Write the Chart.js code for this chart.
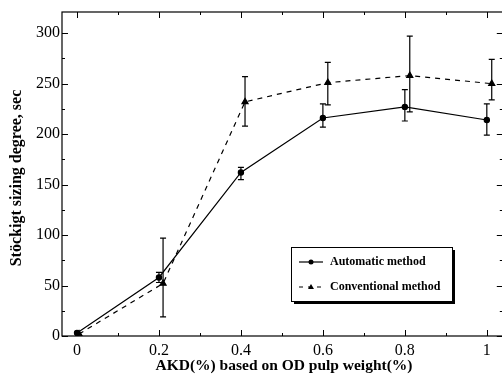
<!DOCTYPE html>
<html lang="en">
<head>
    <meta charset="UTF-8">
    <title>Stöckigt sizing degree</title>
    <script src="https://cdn.jsdelivr.net/npm/chart.js"></script>
    <style>
        html, body { margin: 0; padding: 0; background: #fff; overflow: hidden; }
        .chart-container { position: relative; width: 508px; height: 382px; }
    </style>
</head>
<body>
    <div class="chart-container">
        <canvas id="sizingChart"></canvas>
    </div>

    <script>
        // Data
        const autoX = [0, 0.2, 0.4, 0.6, 0.8, 1.0];
        const autoY = [3, 58, 162, 216, 227, 214];
        const autoLo = [3, 53, 155, 207, 213, 199];
        const autoHi = [3, 63, 167, 230, 244, 230];

        const convX = [0.005, 0.21, 0.41, 0.612, 0.812, 1.012];
        const convY = [2, 52, 232, 251, 258, 250];
        const convLo = [2, 19, 208, 229, 222, 234];
        const convHi = [2, 97, 257, 271, 297, 274];

        const xTicks = [0, 0.2, 0.4, 0.6, 0.8, 1];
        const yTicks = [0, 50, 100, 150, 200, 250, 300];

        const seriesNames = ['Automatic method', 'Conventional method'];

        const serif = "'Liberation Serif', 'Times New Roman', serif";

        function toPoints(xs, ys) {
            return xs.map((x, i) => ({ x: x, y: ys[i] }));
        }

        // Frame with inward ticks on all four sides
        const framePlugin = {
            id: 'frame',
            beforeDatasetsDraw(chart) {
                const { ctx, chartArea: a, scales: { x, y } } = chart;
                ctx.save();
                ctx.strokeStyle = '#000';
                ctx.lineWidth = 1.2;
                ctx.strokeRect(a.left, a.top, a.right - a.left, a.bottom - a.top);
                ctx.lineWidth = 1;
                ctx.beginPath();
                for (let v = 0; v <= 1.0001; v += 0.1) {
                    const px = Math.round(x.getPixelForValue(v)) + 0.5;
                    const major = Math.round(v * 10) % 2 === 0;
                    const len = major ? 6 : 3;
                    ctx.moveTo(px, a.bottom); ctx.lineTo(px, a.bottom - len);
                    ctx.moveTo(px, a.top); ctx.lineTo(px, a.top + len);
                }
                for (let v = 0; v <= 320; v += 25) {
                    const py = Math.round(y.getPixelForValue(v)) + 0.5;
                    const len = v % 50 === 0 ? 6 : 3;
                    ctx.moveTo(a.left, py); ctx.lineTo(a.left + len, py);
                    ctx.moveTo(a.right, py); ctx.lineTo(a.right - len, py);
                }
                ctx.stroke();
                ctx.restore();
            }
        };

        // Error bars drawn from the lo/hi arrays
        const errorBarPlugin = {
            id: 'errorBars',
            afterDatasetsDraw(chart) {
                const { ctx, scales: { x, y } } = chart;
                const sets = [[autoX, autoLo, autoHi], [convX, convLo, convHi]];
                ctx.save();
                ctx.strokeStyle = '#000';
                ctx.lineWidth = 1.2;
                ctx.setLineDash([]);
                sets.forEach(([xs, lo, hi]) => {
                    xs.forEach((xv, i) => {
                        if (hi[i] - lo[i] < 2) return;
                        const px = x.getPixelForValue(xv);
                        const pLo = y.getPixelForValue(lo[i]);
                        const pHi = y.getPixelForValue(hi[i]);
                        ctx.beginPath();
                        ctx.moveTo(px, pLo); ctx.lineTo(px, pHi);
                        ctx.moveTo(px - 3, pLo); ctx.lineTo(px + 3, pLo);
                        ctx.moveTo(px - 3, pHi); ctx.lineTo(px + 3, pHi);
                        ctx.stroke();
                    });
                });
                ctx.restore();
            }
        };

        // Boxed legend with a drop shadow, plus axis titles
        const legendPlugin = {
            id: 'boxLegend',
            afterDraw(chart) {
                const { ctx } = chart;
                const bx = 291, by = 247, bw = 161, bh = 54;
                ctx.save();
                ctx.fillStyle = '#000';
                ctx.fillRect(bx + 3, by + 3, bw, bh);
                ctx.fillStyle = '#fff';
                ctx.fillRect(bx, by, bw, bh);
                ctx.strokeStyle = '#000';
                ctx.lineWidth = 1;
                ctx.strokeRect(bx + 0.5, by + 0.5, bw, bh);

                ctx.fillStyle = '#000';
                const rows = [262, 287];
                ctx.font = 'bold 12px ' + serif;
                ctx.textBaseline = 'middle';
                ctx.textAlign = 'left';
                rows.forEach((ry, i) => {
                    ctx.beginPath();
                    ctx.lineWidth = 1.2;
                    ctx.setLineDash(i === 1 ? [4, 5] : []);
                    ctx.moveTo(299, ry); ctx.lineTo(323, ry);
                    ctx.stroke();
                    ctx.setLineDash([]);
                    ctx.beginPath();
                    if (i === 0) {
                        ctx.arc(311, ry, 2.5, 0, Math.PI * 2);
                    } else {
                        ctx.moveTo(311, ry - 3); ctx.lineTo(314, ry + 2); ctx.lineTo(308, ry + 2);
                        ctx.closePath();
                    }
                    ctx.fill();
                    ctx.fillText(seriesNames[i], 330, ry);
                });

                ctx.font = 'bold 15.5px ' + serif;
                ctx.textAlign = 'center';
                ctx.fillText('AKD(%) based on OD pulp weight(%)', 284, 366);
                ctx.translate(17, 178);
                ctx.rotate(-Math.PI / 2);
                ctx.font = 'bold 16px ' + serif;
                ctx.fillText('Stöckigt sizing degree, sec', 0, 0);
                ctx.restore();
            }
        };

        const sizingChart = new Chart(document.getElementById('sizingChart'), {
            type: 'line',
            data: {
                datasets: [{
                    label: seriesNames[0],
                    data: toPoints(autoX, autoY),
                    borderColor: '#000',
                    backgroundColor: '#000',
                    borderWidth: 1.2,
                    pointStyle: 'circle',
                    pointRadius: 2.6,
                    tension: 0
                }, {
                    label: seriesNames[1],
                    data: toPoints(convX, convY),
                    borderColor: '#000',
                    backgroundColor: '#000',
                    borderWidth: 1.2,
                    borderDash: [5, 5],
                    pointStyle: 'triangle',
                    pointRadius: 3.5,
                    tension: 0
                }]
            },
            options: {
                responsive: true,
                maintainAspectRatio: false,
                animation: false,
                layout: { padding: { top: 12, right: 5, left: 0, bottom: 0 } },
                plugins: {
                    legend: { display: false },
                    tooltip: { enabled: false }
                },
                scales: {
                    x: {
                        type: 'linear',
                        min: -0.0366,
                        max: 1.039,
                        grid: { display: false, drawTicks: false },
                        border: { display: false },
                        afterBuildTicks: s => { s.ticks = xTicks.map(v => ({ value: v })); },
                        afterFit: s => { s.height = 46; },
                        ticks: {
                            color: '#000',
                            padding: 5,
                            maxRotation: 0,
                            font: { family: serif, size: 16 },
                            callback: v => String(v)
                        }
                    },
                    y: {
                        min: 0,
                        max: 321,
                        grid: { display: false, drawTicks: false },
                        border: { display: false },
                        afterBuildTicks: s => { s.ticks = yTicks.map(v => ({ value: v })); },
                        afterFit: s => { s.width = 62; },
                        ticks: {
                            color: '#000',
                            padding: 2,
                            font: { family: serif, size: 16 },
                            callback: v => String(v)
                        }
                    }
                }
            },
            plugins: [framePlugin, errorBarPlugin, legendPlugin]
        });
    </script>
</body>
</html>
